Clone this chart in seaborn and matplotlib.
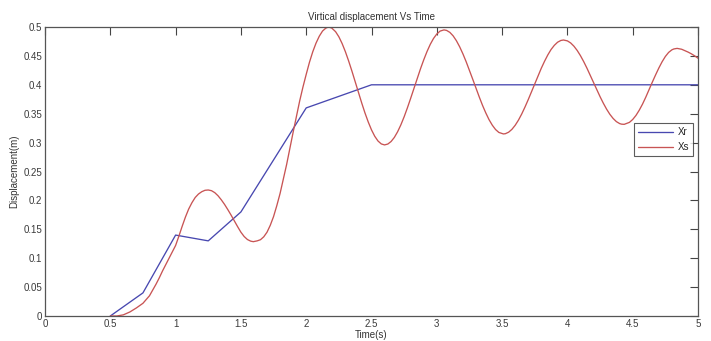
import matplotlib
matplotlib.use("Agg")
import matplotlib.pyplot as plt
import seaborn as sns
import pandas as pd

# Xr: road input (piecewise linear)
xr_time = [0.5, 0.75, 1.0, 1.25, 1.5, 2.0, 2.5, 3.0, 3.5, 4.0, 4.5, 5.0]
xr_disp = [0.0, 0.04, 0.14, 0.13, 0.18, 0.36, 0.40, 0.40, 0.40, 0.40, 0.40, 0.40]

# Xs: sprung mass response
xs_time = [0.50, 0.55, 0.60, 0.65, 0.70, 0.75, 0.80, 0.825, 0.85, 0.875,
           0.90, 0.925, 0.95, 0.975, 1.00, 1.025, 1.05, 1.075, 1.10, 1.125,
           1.15, 1.175, 1.20, 1.225, 1.25, 1.275, 1.30, 1.325, 1.35, 1.375,
           1.40, 1.425, 1.45, 1.475, 1.50, 1.525, 1.55, 1.575, 1.595, 1.625,
           1.65, 1.675, 1.70, 1.725, 1.75, 1.775, 1.80, 1.825, 1.85, 1.875,
           1.90, 1.925, 1.95, 1.975, 2.00, 2.025, 2.05, 2.075, 2.10, 2.125,
           2.15, 2.17, 2.195, 2.225, 2.25, 2.275, 2.30, 2.325, 2.35, 2.375,
           2.40, 2.425, 2.45, 2.475, 2.50, 2.525, 2.55, 2.575, 2.60, 2.625,
           2.65, 2.675, 2.70, 2.725, 2.75, 2.775, 2.80, 2.825, 2.85, 2.875,
           2.90, 2.925, 2.95, 2.975, 3.00, 3.025, 3.055, 3.075, 3.10, 3.125,
           3.15, 3.175, 3.20, 3.225, 3.25, 3.275, 3.30, 3.325, 3.35, 3.375,
           3.40, 3.425, 3.45, 3.475, 3.51, 3.525, 3.55, 3.575, 3.60, 3.625,
           3.65, 3.675, 3.70, 3.725, 3.75, 3.775, 3.80, 3.825, 3.85, 3.875,
           3.90, 3.925, 3.95, 3.97, 4.00, 4.025, 4.05, 4.075, 4.10, 4.125,
           4.15, 4.175, 4.20, 4.225, 4.25, 4.275, 4.30, 4.325, 4.35, 4.375,
           4.40, 4.415, 4.435, 4.475, 4.50, 4.525, 4.55, 4.575, 4.60, 4.625,
           4.65, 4.675, 4.70, 4.725, 4.75, 4.775, 4.80, 4.815, 4.84, 4.875,
           4.90, 4.925, 4.95, 4.975, 5.00]
xs_disp = [0.000, 0.000, 0.002, 0.007, 0.014, 0.022, 0.035, 0.045, 0.055, 0.066,
           0.078, 0.089, 0.100, 0.111, 0.122, 0.138, 0.155, 0.171, 0.185, 0.196,
           0.205, 0.211, 0.215, 0.2175, 0.218, 0.2168, 0.2134, 0.2080, 0.2010, 0.1930,
           0.1840, 0.1745, 0.1645, 0.1545, 0.1450, 0.1375, 0.1323, 0.1295, 0.1286, 0.130,
           0.132, 0.137, 0.145, 0.157, 0.172, 0.191, 0.212, 0.237, 0.262, 0.290,
           0.318, 0.345, 0.372, 0.396, 0.418, 0.439, 0.457, 0.472, 0.484, 0.493,
           0.498, 0.500, 0.4983, 0.4919, 0.4831, 0.4714, 0.4573, 0.4412, 0.4238, 0.4055,
           0.3869, 0.3686, 0.3513, 0.3357, 0.3220, 0.3109, 0.3027, 0.2977, 0.296, 0.2975,
           0.3019, 0.3090, 0.3188, 0.3308, 0.3447, 0.3602, 0.3767, 0.3938, 0.4109, 0.4276,
           0.4432, 0.4575, 0.4700, 0.4802, 0.4879, 0.4929, 0.495, 0.4941, 0.4907, 0.4847,
           0.4763, 0.4658, 0.4535, 0.4398, 0.4250, 0.4097, 0.3941, 0.3790, 0.3645, 0.3514,
           0.3397, 0.3301, 0.3226, 0.3176, 0.315, 0.3154, 0.3180, 0.3229, 0.3299, 0.3388,
           0.3494, 0.3614, 0.3743, 0.3879, 0.4018, 0.4155, 0.4286, 0.4407, 0.4517, 0.4611,
           0.4683, 0.4737, 0.4767, 0.4775, 0.4760, 0.4724, 0.4668, 0.4594, 0.4504, 0.4400,
           0.4286, 0.4165, 0.4040, 0.3916, 0.3795, 0.3682, 0.3579, 0.3490, 0.3418, 0.3363,
           0.3329, 0.3319, 0.3316, 0.3350, 0.3400, 0.3470, 0.3560, 0.3665, 0.3785, 0.3915,
           0.4045, 0.4170, 0.4290, 0.4398, 0.4490, 0.4560, 0.4605, 0.4620, 0.4630, 0.4615,
           0.4590, 0.4565, 0.4535, 0.4500, 0.4460]

x_ticks = [0, 0.5, 1, 1.5, 2, 2.5, 3, 3.5, 4, 4.5, 5]
y_ticks = [0, 0.05, 0.1, 0.15, 0.2, 0.25, 0.3, 0.35, 0.4, 0.45, 0.5]

df = pd.concat([
    pd.DataFrame({"Time": xr_time, "Disp": xr_disp, "Series": "Xr"}),
    pd.DataFrame({"Time": xs_time, "Disp": xs_disp, "Series": "Xs"}),
], ignore_index=True)

sns.set_theme(style="white")
plt.rcParams["font.family"] = ["Liberation Sans", "DejaVu Sans"]
plt.rcParams["xtick.direction"] = "in"
plt.rcParams["ytick.direction"] = "in"

fig = plt.figure(figsize=(7.11, 3.41), dpi=100)
fig.patch.set_facecolor("white")
ax = fig.add_axes([45 / 711, 25 / 341, 653 / 711, 289 / 341])

sns.lineplot(data=df, x="Time", y="Disp", hue="Series", sort=False,
             palette={"Xr": "#4848b0", "Xs": "#c85454"}, linewidth=0.95,
             estimator=None, ax=ax)

ax.set_xlim(0, 5)
ax.set_ylim(0, 0.5)
ax.set_xticks(x_ticks)
ax.set_xticklabels([f"{v:g}" for v in x_ticks])
ax.set_yticks(y_ticks)
ax.set_yticklabels([f"{v:g}" for v in y_ticks])
ax.tick_params(axis="both", labelsize=7, length=6, width=0.8, color="#444444",
               top=True, right=True, pad=2, labelcolor="#3a3a3a")
for s in ax.spines.values():
    s.set_visible(True)
    s.set_color("#555555")
    s.set_linewidth(0.9)

ax.set_title("Virtical displacement Vs Time", fontsize=7, color="#333333", pad=5)
ax.set_xlabel("Time(s)", fontsize=7, color="#333333", labelpad=1)
ax.set_ylabel("Displacement(m)", fontsize=7, color="#333333", labelpad=3)

leg = ax.legend(loc="upper right", bbox_to_anchor=(0.992, 0.667), fontsize=7,
                frameon=True, fancybox=False, handlelength=3.6, borderpad=0.4,
                labelspacing=0.5, handletextpad=0.5, borderaxespad=0)
leg.get_frame().set_edgecolor("#333333")
leg.get_frame().set_linewidth(0.8)

fig.savefig("out.png", dpi=100)
